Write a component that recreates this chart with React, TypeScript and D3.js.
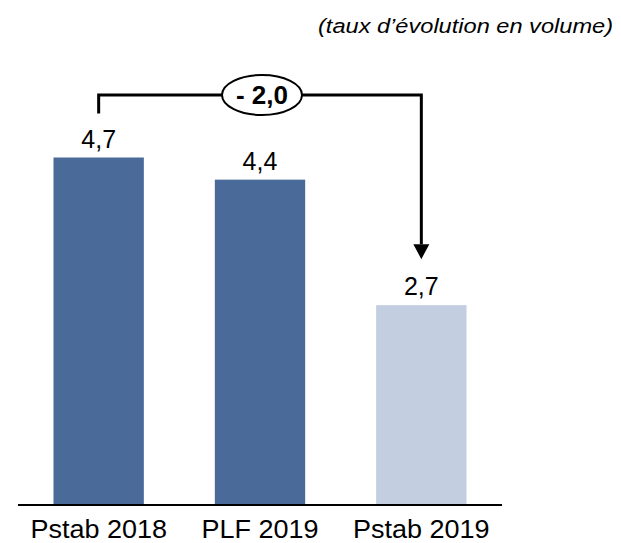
import React from "react";
import * as d3 from "d3";

const categories = ["Pstab 2018", "PLF 2019", "Pstab 2019"];
const values = [4.7, 4.4, 2.7];
const valueLabels = ["4,7", "4,4", "2,7"];
const barColors = ["#4A6A99", "#4A6A99", "#C3CEE0"];
const diffLabel = "- 2,0";
const subtitle = "(taux d\u2019\u00e9volution en volume)";

const W = 621;
const H = 543;
const FONT = "'Liberation Sans', Arial, sans-serif";

export default function App() {
  const x = d3.scaleBand<string>().domain(categories).range([18, 502]).paddingInner(0.44).paddingOuter(0.22);
  const y = d3.scaleLinear().domain([0, 4.7]).range([504.5, 157.5]);
  const bw = x.bandwidth();
  const cx = (c: string) => (x(c) as number) + bw / 2;

  const xl = cx(categories[0]);
  const xr = cx(categories[2]);
  const yTop = 95;
  const leftBottom = y(values[0]) - 44;
  const tipY = y(values[2]) - 46;
  const headH = 15;
  const headW = 8;
  const ex = (xl + xr) / 2 + 2;

  return (
    <svg width={W} height={H} style={{ position: "absolute", left: 0, top: 0, background: "#fff" }} fontFamily={FONT}>
      <text x={613} y={33} textAnchor="end" fontStyle="italic" fontSize={20} fill="#000" textLength={295} lengthAdjust="spacingAndGlyphs">
        {subtitle}
      </text>
      {categories.map((c, i) => (
        <g key={c}>
          <rect x={x(c)} y={y(values[i])} width={bw} height={y(0) - y(values[i])} fill={barColors[i]} />
          <text x={cx(c)} y={y(values[i]) - 10} textAnchor="middle" fontSize={25} fill="#000">
            {valueLabels[i]}
          </text>
          <text x={cx(c)} y={538} textAnchor="middle" fontSize={25} fill="#000" transform={`translate(${cx(c)},0) scale(1.08,1) translate(${-cx(c)},0)`}>
            {c}
          </text>
        </g>
      ))}
      <line x1={18} x2={502} y1={y(0) + 0.5} y2={y(0) + 0.5} stroke="#000" strokeWidth={2} />
      <path
        d={`M${xl},${leftBottom} V${yTop} H${xr} V${tipY - headH}`}
        fill="none"
        stroke="#000"
        strokeWidth={3}
      />
      <polygon points={`${xr - headW},${tipY - headH} ${xr + headW},${tipY - headH} ${xr},${tipY}`} fill="#000" />
      <ellipse cx={ex} cy={yTop} rx={40} ry={20} fill="#fff" stroke="#000" strokeWidth={2} />
      <text x={ex} y={104} textAnchor="middle" fontWeight="bold" fontSize={26} fill="#000">
        {diffLabel}
      </text>
    </svg>
  );
}
